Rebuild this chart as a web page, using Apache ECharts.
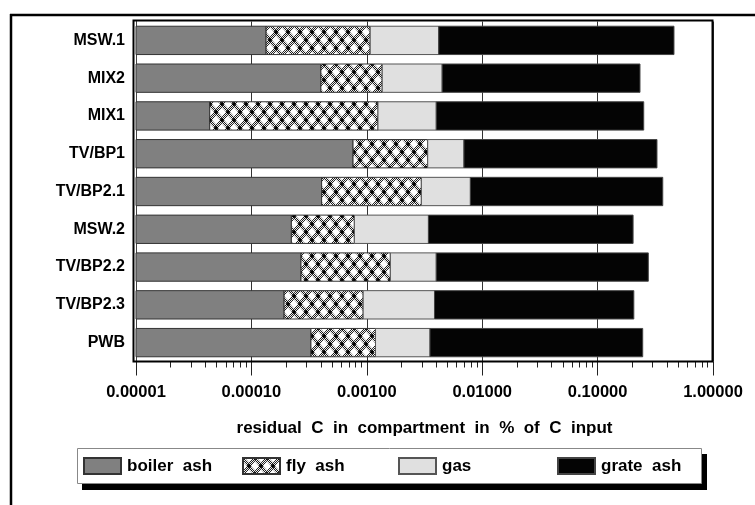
<!DOCTYPE html>
<html>
<head>
<meta charset="utf-8">
<script src="https://cdn.jsdelivr.net/npm/echarts@6/dist/echarts.min.js"></script>
<style>html,body{margin:0;padding:0;background:#fff;}#c{width:755px;height:505px;}</style>
</head>
<body>
<div id="c"></div>
<script>
// ---- data (upper boundary of each segment, % of C input, log axis) ----
const categories = ['MSW.1','MIX2','MIX1','TV/BP1','TV/BP2.1','MSW.2','TV/BP2.2','TV/BP2.3','PWB'];
const boilerAshEnd = [1.34e-4, 4.0e-4, 4.35e-5, 7.6e-4, 4.06e-4, 2.22e-4, 2.69e-4, 1.92e-4, 3.28e-4];
const flyAshEnd    = [1.07e-3, 1.36e-3, 1.25e-3, 3.37e-3, 2.97e-3, 7.8e-4, 1.6e-3, 9.3e-4, 1.19e-3];
const gasEnd       = [4.2e-3, 4.5e-3, 4.0e-3, 6.95e-3, 7.9e-3, 3.42e-3, 4.0e-3, 3.86e-3, 3.53e-3];
const grateAshEnd  = [0.459, 0.233, 0.251, 0.327, 0.367, 0.203, 0.275, 0.206, 0.246];
const seriesNames  = ['boiler  ash','fly  ash','gas','grate  ash'];
const axisMin = 0.00001, axisMax = 1;
const tickLabels = ['0.00001','0.00010','0.00100','0.01000','0.10000','1.00000'];
const axisTitle = 'residual  C  in  compartment  in  %  of  C  input';

const decades = [0.00001, 0.0001, 0.001, 0.01, 0.1];
const minorTicks = [];
decades.forEach(d => { for (let k = 2; k <= 9; k++) minorTicks.push(d * k); });

// fly ash crosshatch pattern
function makePattern() {
  const w = 12, h = 16;
  const cv = document.createElement('canvas');
  cv.width = w; cv.height = h;
  const ctx = cv.getContext('2d');
  const img = ctx.createImageData(w, h);
  for (let y = 0; y < h; y++) for (let x = 0; x < w; x++) {
    const v = ((x + y) % 2 === 0) ? 30 : 240;
    const i = (y * w + x) * 4;
    img.data[i] = img.data[i+1] = img.data[i+2] = v; img.data[i+3] = 255;
  }
  ctx.putImageData(img, 0, 0);
  function diamond(cx, cy, rx, ry, col) {
    ctx.fillStyle = col; ctx.beginPath();
    ctx.moveTo(cx, cy - ry); ctx.lineTo(cx + rx, cy); ctx.lineTo(cx, cy + ry); ctx.lineTo(cx - rx, cy);
    ctx.closePath(); ctx.fill();
  }
  [[6,0],[0,8],[12,8],[6,16]].forEach(p => diamond(p[0], p[1], 4.0, 4.6, '#fff'));
  [[0,0],[12,0],[6,8],[0,16],[12,16]].forEach(p => diamond(p[0], p[1], 2.3, 2.6, '#000'));
  return cv;
}
const flyPattern = { image: makePattern(), repeat: 'repeat' };

function segData(starts, ends) {
  return categories.map((c, i) => [starts ? starts[i] : axisMin, ends[i], i]);
}
const segs = [
  segData(null, boilerAshEnd),
  segData(boilerAshEnd, flyAshEnd),
  segData(flyAshEnd, gasEnd),
  segData(gasEnd, grateAshEnd)
];
const fills = ['#808080', flyPattern, '#e0e0e0', '#040404'];
const borders = ['#333333', '#333333', '#555555', '#444444'];

function renderItem(params, api) {
  const s = api.value(0), e = api.value(1), c = api.value(2);
  const p0 = api.coord([s, c]);
  const p1 = api.coord([e, c]);
  const band = Math.abs(api.coord([s, 1])[1] - api.coord([s, 0])[1]);
  const h = band * 0.75;
  return {
    type: 'rect',
    shape: { x: p0[0], y: p0[1] - h / 2, width: p1[0] - p0[0], height: h },
    style: api.style()
  };
}

const FONT = 'Liberation Sans';
const chart = echarts.init(document.getElementById('c'), null, { renderer: 'canvas' });
const legendX = [83, 242, 398, 557];

chart.setOption({
  animation: false,
  backgroundColor: '#fff',
  grid: { left: 136, right: 42, top: 21.5, bottom: 143.5, containLabel: false },
  xAxis: [{
    type: 'log', logBase: 10, min: axisMin, max: axisMax,
    axisLine: { show: false },
    axisTick: { show: true, length: 14, lineStyle: { color: '#222', width: 1 } },
    axisLabel: {
      margin: 22, color: '#000', fontFamily: FONT, fontWeight: 'bold', fontSize: 16.5,
      formatter: v => { const i = Math.round(Math.log10(v) + 5); return tickLabels[i] || ''; }
    },
    splitLine: { show: true, lineStyle: { color: '#333', width: 1 } },
    name: axisTitle, nameLocation: 'middle', nameGap: 58,
    nameTextStyle: { color: '#000', fontFamily: FONT, fontWeight: 'bold', fontSize: 17 }
  }, {
    type: 'log', logBase: 10, min: axisMin, max: axisMax, position: 'bottom',
    axisLine: { show: false },
    axisTick: { show: true, length: 6, customValues: minorTicks, lineStyle: { color: '#222', width: 1 } },
    axisLabel: { show: false },
    splitLine: { show: false }
  }],
  yAxis: {
    type: 'category', data: categories, inverse: true,
    axisLine: { show: true, lineStyle: { color: '#444', width: 1 } },
    axisTick: { show: false },
    axisLabel: { margin: 11, color: '#000', fontFamily: FONT, fontWeight: 'bold', fontSize: 16 }
  },
  legend: seriesNames.map((n, i) => ({
    data: [n], left: legendX[i], top: 457, padding: 0, z: 10,
    icon: 'rect', itemWidth: 37, itemHeight: 16, itemGap: 0,
    textStyle: { color: '#000', fontFamily: FONT, fontWeight: 'bold', fontSize: 17, lineHeight: 16, padding: [0, 0, 0, 1] },
    selectedMode: false
  })),
  series: seriesNames.map((n, i) => ({
    type: 'custom', name: n, xAxisIndex: 0, yAxisIndex: 0,
    renderItem: renderItem,
    encode: { x: [0, 1], y: 2 },
    data: segs[i],
    itemStyle: { color: fills[i], borderColor: borders[i], borderWidth: 1 },
    z: 3
  })),
  graphic: [
    // outer frame (top & left)
    { type: 'line', z: 20, shape: { x1: 10, y1: 15, x2: 755, y2: 15 }, style: { stroke: '#000', lineWidth: 2.5 } },
    { type: 'line', z: 20, shape: { x1: 11, y1: 14, x2: 11, y2: 505 }, style: { stroke: '#000', lineWidth: 2.5 } },
    // plot frame
    { type: 'rect', z: 20, shape: { x: 133.5, y: 20.5, width: 579, height: 341 }, style: { fill: null, stroke: '#000', lineWidth: 2 } },
    // legend shadow and box
    { type: 'rect', z: 1, shape: { x: 82, y: 454, width: 625, height: 36 }, style: { fill: '#000' } },
    { type: 'rect', z: 2, shape: { x: 77.5, y: 448.5, width: 624, height: 35 }, style: { fill: '#fff', stroke: '#888', lineWidth: 1 } }
  ]
});
</script>
</body>
</html>
